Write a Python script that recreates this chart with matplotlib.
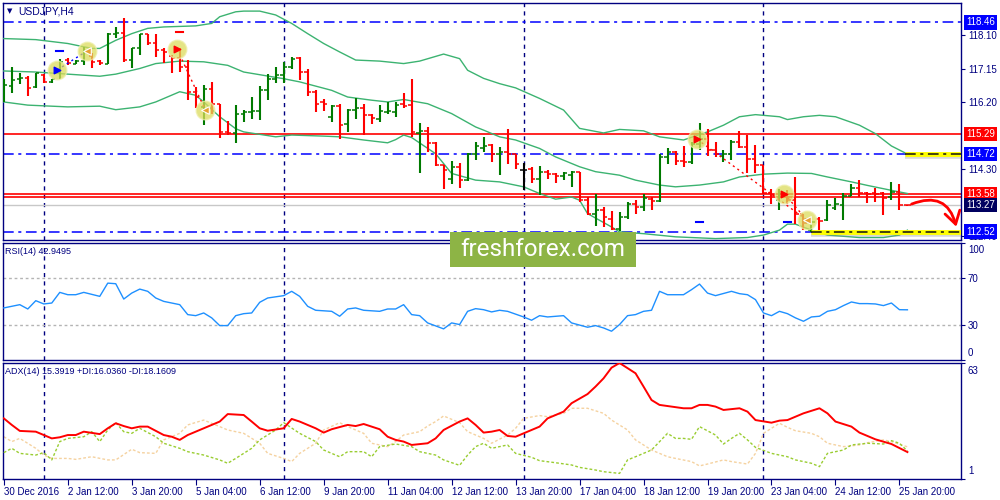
import matplotlib
matplotlib.use('Agg')
import matplotlib.pyplot as plt
from matplotlib.patches import FancyArrowPatch, Rectangle
import numpy as np

plt.rcParams['font.family'] = ['Liberation Sans', 'DejaVu Sans']

# USDJPY H4 bars, 30 Dec 2016 .. 26 Jan 2017
opens = [116.44, 116.65, 116.86, 116.89, 116.63, 116.97, 116.77, 117.05, 117.39, 117.29,
         117.36, 117.50, 117.36, 117.29, 118.12, 118.16, 117.40, 117.72, 118.12, 117.86,
         117.67, 117.50, 117.45, 117.20, 116.49, 116.06, 116.58, 116.15, 115.35, 115.32,
         115.87, 115.92, 115.94, 116.55, 116.84, 116.96, 117.20, 117.45, 117.05, 116.49,
         116.20, 115.76, 116.08, 115.56, 115.97, 116.04, 115.82, 115.73, 115.92, 115.92,
         116.14, 116.11, 115.33, 115.38, 115.04, 114.42, 114.02, 114.36, 113.98, 114.72,
         114.88, 114.97, 114.72, 114.78, 114.72, 114.28, 114.31, 114.00, 114.22, 114.15,
         114.09, 114.12, 114.20, 113.41, 113.03, 113.14, 112.89, 112.60, 112.94, 113.30,
         113.22, 113.44, 113.39, 114.64, 114.78, 114.53, 114.50, 115.02, 115.16, 114.83,
         114.66, 114.73, 115.07, 114.92, 114.59, 114.40, 113.62, 113.43, 113.60, 113.41,
         113.03, 112.55, 112.89, 112.84, 113.20, 113.27, 113.52, 113.77, 113.62, 113.62,
         113.62, 113.50, 113.65, 113.27]
highs = [116.85, 117.20, 117.01, 116.93, 117.03, 116.99, 116.86, 117.43, 117.46, 117.40,
         117.75, 117.58, 117.40, 118.17, 118.33, 118.57, 117.74, 118.14, 118.14, 118.14,
         117.74, 117.53, 117.72, 117.40, 116.63, 116.68, 116.77, 116.15, 115.66, 116.11,
         115.97, 116.34, 116.65, 116.99, 117.18, 117.34, 117.48, 117.48, 117.15, 116.53,
         116.27, 116.11, 116.15, 116.01, 116.32, 116.15, 115.87, 116.11, 116.20, 116.20,
         116.46, 116.85, 115.60, 115.49, 115.07, 114.42, 114.52, 114.48, 114.75, 115.07,
         115.21, 115.02, 114.92, 115.42, 114.73, 114.47, 114.34, 114.37, 114.28, 114.17,
         114.22, 114.24, 114.22, 113.50, 113.58, 113.22, 113.11, 113.08, 113.36, 113.41,
         113.60, 113.50, 114.73, 114.88, 114.81, 114.94, 115.07, 115.59, 115.44, 115.07,
         114.83, 115.13, 115.37, 115.26, 114.97, 114.40, 113.74, 113.74, 113.69, 114.07,
         113.03, 112.94, 112.94, 113.41, 113.46, 113.62, 113.86, 113.98, 113.65, 113.77,
         113.65, 113.93, 113.88, 113.27]
lows = [116.20, 116.46, 116.72, 116.36, 116.61, 116.74, 116.74, 116.84, 117.24, 117.27,
        117.24, 117.17, 117.26, 117.29, 118.03, 117.34, 117.17, 117.53, 117.81, 117.48,
        117.32, 117.01, 117.05, 116.25, 116.04, 115.54, 115.87, 115.19, 115.26, 115.04,
        115.63, 115.73, 115.68, 116.25, 116.74, 116.74, 117.15, 116.82, 116.36, 115.92,
        115.94, 115.63, 115.16, 115.35, 115.73, 115.26, 115.57, 115.63, 115.87, 115.78,
        116.04, 115.21, 114.18, 114.78, 114.37, 113.74, 113.88, 113.77, 113.96, 114.56,
        114.78, 114.50, 114.12, 114.45, 114.31, 113.71, 113.90, 113.55, 114.02, 113.90,
        113.98, 113.79, 113.36, 112.98, 112.67, 112.65, 112.55, 112.54, 112.89, 113.03,
        113.11, 113.14, 113.36, 114.45, 114.40, 114.36, 114.45, 114.83, 114.66, 114.64,
        114.50, 114.55, 114.88, 114.17, 114.17, 113.58, 113.30, 113.14, 113.30, 112.73,
        112.55, 112.51, 112.48, 112.82, 113.14, 112.84, 113.52, 113.50, 113.34, 113.36,
        112.98, 113.43, 113.14, 113.24]
closes = [116.68, 116.82, 116.89, 116.61, 117.01, 116.76, 116.85, 117.34, 117.31, 117.36,
          117.62, 117.34, 117.32, 118.14, 118.16, 117.40, 117.72, 118.12, 117.86, 117.67,
          117.62, 117.45, 117.20, 116.49, 116.34, 116.58, 116.15, 115.35, 115.32, 115.87,
          115.92, 115.95, 116.55, 116.84, 116.96, 117.20, 117.43, 117.05, 116.49, 116.14,
          116.14, 116.08, 115.54, 115.98, 116.04, 115.82, 115.75, 115.95, 115.94, 116.11,
          116.08, 115.35, 115.38, 115.04, 114.42, 114.28, 114.36, 113.98, 114.72, 114.94,
          114.94, 114.72, 114.78, 114.72, 114.45, 114.28, 114.00, 114.22, 114.15, 114.09,
          114.17, 114.22, 113.41, 113.03, 113.14, 112.92, 112.60, 112.94, 113.30, 113.22,
          113.46, 113.39, 114.64, 114.78, 114.53, 114.50, 115.02, 115.16, 114.83, 114.72,
          114.73, 115.07, 114.92, 114.59, 114.40, 113.62, 113.55, 113.60, 113.41, 113.03,
          112.77, 112.79, 112.82, 113.27, 113.30, 113.52, 113.77, 113.62, 113.60, 113.58,
          113.48, 113.65, 113.27, 113.26]

# Bollinger bands (bar index, price)
upper_band = [(0, 118.00), (4, 117.97), (8, 117.86), (11, 117.72), (12, 117.72), (14, 117.95),
              (16, 118.14), (18, 118.29), (20, 118.33), (24, 118.36), (26, 118.43), (27, 118.62),
              (29, 118.76), (30, 118.78), (32, 118.78), (34, 118.67), (36, 118.43), (38, 118.14),
              (40, 117.86), (42, 117.62), (44, 117.39), (47, 117.36), (50, 117.29), (52, 117.36),
              (55, 117.56), (57, 117.43), (58, 117.10), (60, 116.87), (62, 116.72), (64, 116.60),
              (67, 116.30), (70, 115.97), (72, 115.45), (75, 115.32), (77, 115.42), (80, 115.38),
              (82, 115.21), (85, 115.12), (88, 115.35), (90, 115.54), (92, 115.78), (94, 115.84),
              (97, 115.78), (98, 115.70), (100, 115.78), (102, 115.82), (104, 115.78), (107, 115.54),
              (109, 115.30), (111, 114.95), (113, 114.72)]
middle_band = [(0, 117.08), (4, 117.05), (8, 116.99), (12, 116.93), (14, 116.99), (17, 117.15),
               (19, 117.29), (22, 117.36), (25, 117.34), (28, 117.24), (30, 117.05), (35, 116.86),
               (37, 116.77), (41, 116.53), (43, 116.34), (46, 116.25), (48, 116.20), (50, 116.27),
               (53, 116.15), (56, 115.87), (59, 115.49), (60, 115.40), (62, 115.21), (64, 115.12),
               (67, 114.88), (69, 114.64), (72, 114.36), (74, 114.22), (77, 114.12), (79, 113.98),
               (82, 113.84), (84, 113.79), (87, 113.84), (90, 113.93), (92, 114.07), (95, 114.15),
               (98, 114.18), (101, 114.17), (103, 114.07), (106, 113.93), (108, 113.83), (111, 113.69),
               (113, 113.60)]
lower_band = [(0, 116.20), (3, 116.11), (8, 116.06), (12, 116.08), (14, 115.98), (17, 116.06),
              (19, 116.20), (22, 116.49), (24, 116.39), (25, 116.20), (27, 115.78), (29, 115.44),
              (30, 115.35), (34, 115.21), (36, 115.26), (40, 115.23), (42, 115.21), (45, 115.12),
              (48, 115.04), (49, 115.13), (50, 115.26), (51, 115.19), (54, 114.73), (56, 114.17),
              (59, 113.98), (62, 113.93), (65, 113.79), (67, 113.60), (69, 113.44), (71, 113.50),
              (72, 113.41), (73, 113.03), (76, 112.65), (77, 112.51), (80, 112.46), (84, 112.37),
              (89, 112.32), (93, 112.35), (95, 112.42), (97, 112.56), (98, 112.73), (99, 112.73),
              (101, 112.56), (103, 112.42), (107, 112.35), (110, 112.35), (112, 112.42), (113, 112.56)]

# RSI(14)
rsi_points = [(0, 44.5), (2, 47.3), (3, 43.6), (4, 50.7), (5, 47.9), (6, 48.7), (7, 57.8), (8, 55.8),
              (9, 55.8), (10, 57.8), (12, 54.4), (13, 65.7), (14, 65.2), (15, 52.1), (16, 57.2),
              (17, 60.6), (18, 58.7), (19, 53.0), (20, 50.1), (22, 47.3), (23, 38.8), (24, 37.9),
              (25, 40.2), (26, 36.0), (27, 29.4), (28, 29.4), (29, 37.9), (30, 39.6), (31, 40.2),
              (32, 49.3), (33, 53.0), (35, 55.0), (36, 58.7), (37, 54.4), (38, 45.9), (39, 42.5),
              (41, 41.6), (42, 37.4), (43, 43.6), (44, 44.5), (45, 42.5), (47, 41.6), (48, 43.6),
              (49, 43.6), (50, 47.3), (51, 38.8), (52, 37.9), (53, 31.7), (55, 26.6), (56, 31.7),
              (57, 30.3), (58, 41.6), (59, 43.9), (60, 43.0), (61, 41.1), (62, 42.5), (63, 41.6),
              (65, 36.8), (66, 34.0), (67, 37.9), (68, 36.8), (70, 37.9), (71, 31.7), (73, 28.0),
              (74, 29.4), (75, 27.4), (76, 24.6), (77, 30.3), (78, 37.9), (79, 38.8), (80, 41.6),
              (81, 42.5), (82, 58.7), (83, 55.8), (85, 55.8), (86, 60.1), (87, 64.9), (88, 57.2),
              (89, 55.0), (91, 58.7), (92, 56.7), (93, 55.8), (94, 51.6), (95, 40.2), (96, 37.9),
              (97, 41.6), (98, 39.6), (99, 36.0), (100, 33.1), (101, 36.8), (102, 37.4), (103, 41.6),
              (104, 43.0), (105, 46.5), (106, 49.6), (107, 48.2), (108, 48.2), (109, 47.9),
              (110, 46.5), (111, 48.7), (112, 43.0), (113, 42.9)]

# ADX(14), +DI, -DI
adx_idx = [0, 1, 2, 4, 5, 6, 7, 8, 9, 10, 12, 13, 14, 15, 16, 17, 18, 20, 21, 22,
           23, 25, 27, 28, 30, 31, 32, 33, 35, 36, 37, 39, 40, 41, 43, 44, 45, 47, 48, 49,
           50, 51, 53, 54, 55, 57, 58, 59, 60, 61, 62, 63, 64, 65, 67, 68, 70, 71, 73, 74,
           75, 76, 77, 79, 80, 81, 82, 83, 85, 86, 87, 88, 89, 90, 92, 93, 94, 96, 97, 98,
           99, 100, 102, 103, 104, 106, 107, 109, 111, 113]
adx_val = [33.4, 29.9, 26.7, 26.3, 24.5, 22.7, 23.3, 24.5, 24.5, 26.3, 25.0, 28.1, 30.8, 29.3, 28.1, 29.0, 29.0, 24.5, 23.6, 21.9,
           24.5, 28.1, 31.7, 35.7, 35.2, 31.7, 28.1, 26.8, 28.1, 33.1, 31.7, 28.1, 25.8, 27.6, 29.9, 29.3, 30.4, 27.6, 23.6, 21.9,
           21.0, 19.2, 20.1, 22.7, 27.2, 31.7, 33.4, 29.9, 25.8, 26.3, 27.2, 24.0, 23.6, 25.4, 29.0, 33.4, 37.0, 41.5, 46.4, 50.4,
           54.8, 60.5, 63.0, 57.5, 50.4, 43.2, 40.6, 40.0, 38.8, 38.8, 40.6, 40.6, 39.7, 37.9, 38.8, 37.0, 32.5, 31.1, 32.2, 32.5,
           34.3, 36.1, 38.8, 36.1, 31.7, 29.0, 25.8, 22.2, 19.7, 15.4]
pdi_idx = [0, 1, 2, 4, 5, 6, 7, 8, 10, 11, 12, 13, 14, 15, 16, 17, 19, 20, 22, 23,
           25, 27, 28, 29, 31, 32, 34, 35, 37, 39, 40, 42, 43, 45, 46, 47, 49, 51, 52, 54,
           55, 57, 58, 59, 60, 61, 63, 64, 66, 67, 69, 71, 72, 74, 75, 77, 78, 79, 80, 81,
           83, 84, 85, 86, 87, 89, 90, 91, 92, 93, 94, 96, 98, 99, 101, 102, 103, 105, 106, 108,
           110, 111, 112, 113]
pdi_val = [15.1, 17.4, 14.7, 13.8, 15.1, 11.2, 21.0, 22.7, 23.6, 26.3, 21.0, 27.2, 31.1, 26.3, 25.4, 28.1, 23.6, 20.1, 17.4, 15.6,
           13.8, 11.2, 9.4, 12.0, 17.4, 21.9, 27.2, 31.1, 25.4, 21.0, 16.5, 12.9, 15.6, 15.6, 12.9, 18.3, 19.7, 18.3, 15.6, 13.8,
           11.2, 8.3, 13.8, 18.3, 20.1, 17.4, 19.2, 14.7, 12.6, 10.8, 9.7, 8.5, 7.2, 5.8, 4.9, 4.0, 11.2, 12.9, 14.7, 16.5,
           25.4, 22.7, 22.7, 22.2, 29.0, 24.5, 19.7, 22.7, 25.4, 21.9, 17.9, 14.7, 12.9, 11.2, 9.4, 7.6, 14.7, 16.5, 19.2, 20.1,
           19.7, 21.5, 20.1, 16.0]
mdi_idx = [0, 1, 2, 4, 5, 6, 8, 9, 11, 13, 14, 16, 17, 19, 20, 22, 23, 25, 27, 28,
           30, 32, 33, 35, 36, 37, 39, 40, 42, 43, 45, 46, 48, 49, 50, 52, 53, 54, 55, 57,
           58, 60, 61, 63, 64, 65, 67, 68, 70, 71, 73, 75, 76, 78, 79, 81, 83, 84, 86, 87,
           88, 90, 91, 93, 94, 95, 97, 98, 99, 101, 102, 103, 105, 107, 108, 110, 111, 113]
mdi_val = [23.6, 21.0, 22.7, 17.4, 13.8, 12.0, 12.0, 11.5, 12.9, 11.2, 11.2, 16.9, 15.1, 14.7, 21.9, 25.4, 29.9, 32.5, 29.0, 27.2,
           25.4, 20.1, 14.7, 12.0, 10.3, 14.7, 20.1, 27.2, 31.1, 29.0, 25.4, 20.1, 18.3, 21.0, 24.5, 26.3, 29.3, 31.7, 34.7, 31.1,
           26.3, 22.7, 20.1, 24.5, 28.1, 33.4, 34.9, 34.3, 36.1, 38.8, 38.8, 36.1, 32.5, 27.2, 21.9, 16.5, 12.9, 12.0, 10.3, 8.0,
           9.0, 11.2, 10.3, 9.0, 14.7, 25.4, 30.8, 28.6, 26.8, 25.4, 23.6, 20.1, 18.3, 19.2, 20.4, 21.9, 21.0, 18.2]

# levels drawn on the chart
blue_levels = [118.46, 114.72, 112.52]
red_levels = [115.29, 113.58, 113.51]
bid_price = 113.27
yellow_zones = [(112.75, 114.72), (100.9, 112.50)]  # (start bar, price)
price_ticks = [118.10, 117.15, 116.20, 114.30, 112.40]
boxed_labels = [(118.46, '#0000ff'), (115.29, '#ff0000'), (114.72, '#0000ff'),
                (113.58, '#ff0000'), (113.27, '#000060'), (112.52, '#0000ff')]

# trades (bar, price)
buy_entries = [(6.7, 117.11)]
sell_entries = [(21.7, 117.69), (86.7, 115.14), (97.6, 113.60)]
trade_exits = [(10.4, 117.65), (25.2, 115.97), (100.4, 112.85)]
trade_lines = [((6.7, 117.11), (10.4, 117.65), 'blue'),
               ((21.7, 117.69), (25.2, 115.97), 'red'),
               ((86.7, 115.14), (100.4, 112.85), 'red'),
               ((97.6, 113.60), (100.4, 112.85), 'red')]
stop_marks = [(7.0, 117.65, 'blue'), (22.0, 118.18, 'red'), (87.0, 112.80, 'blue'), (98.0, 112.80, 'blue')]

x_labels = ['30 Dec 2016', '2 Jan 12:00', '3 Jan 20:00', '5 Jan 04:00', '6 Jan 12:00',
            '9 Jan 20:00', '11 Jan 04:00', '12 Jan 12:00', '13 Jan 20:00', '17 Jan 04:00',
            '18 Jan 12:00', '19 Jan 20:00', '23 Jan 04:00', '24 Jan 12:00', '25 Jan 20:00']
x_label_bars = list(range(0, 113, 8))
week_bars = [5, 35, 65, 95]

NAVY = '#000080'

fig = plt.figure(figsize=(10, 5), dpi=100)
ax = fig.add_axes([0.003, 0.52, 0.958, 0.474])
ax_rsi = fig.add_axes([0.003, 0.28, 0.958, 0.234], sharex=ax)
ax_adx = fig.add_axes([0.003, 0.042, 0.958, 0.232], sharex=ax)

for a in (ax, ax_rsi, ax_adx):
    for s in a.spines.values():
        s.set_color(NAVY)
        s.set_linewidth(1)
    a.yaxis.tick_right()
    a.tick_params(axis='y', colors=NAVY, labelsize=7, length=3, pad=2)
    a.tick_params(axis='x', bottom=False, labelbottom=False)
    for b in week_bars:
        a.axvline(b, color=NAVY, lw=1, ls=(0, (3, 3)), zorder=1)

ax.set_xlim(-0.1, 119.7)

# --- price panel ---
idx = np.arange(len(closes))
o = np.array(opens)
c = np.array(closes)
colors = ['#007a00' if cc > oo else '#ff0000' if cc < oo else '#000000' for oo, cc in zip(o, c)]
ax.vlines(idx, lows, highs, colors=colors, lw=1.5, zorder=4)
ax.hlines(o, idx - 0.4, idx, colors=colors, lw=1.1, zorder=4)
ax.hlines(c, idx, idx + 0.4, colors=colors, lw=1.1, zorder=4)

for band in (upper_band, middle_band, lower_band):
    bx, by = zip(*band)
    ax.plot(bx, by, color='#3cb371', lw=1, zorder=3)

for p in red_levels:
    ax.axhline(p, color='#ff0000', lw=1.2, zorder=2)
ax.axhline(bid_price, color='#c8c8c8', lw=1, zorder=2)
for p in blue_levels:
    ax.axhline(p, color='#0000ff', lw=1.1, ls=(0, (7, 3, 2, 3)), zorder=2)

for start, p in yellow_zones:
    ax.plot([start, 119.7], [p - 0.05, p - 0.05], color='#909090', lw=4, alpha=0.35,
            solid_capstyle='butt', zorder=5)
    ax.plot([start, 119.7], [p, p], color='#ffff00', lw=3.5, solid_capstyle='butt', zorder=5)
    ax.plot([start, 119.7], [p, p], color='#101010', lw=1.1, ls=(0, (7, 3, 2, 3)), zorder=6)

for (x0, y0), (x1, y1), col in trade_lines:
    ax.plot([x0, x1], [y0, y1], color=col, lw=1, ls=(0, (1.5, 2.5)), zorder=6)

circles = buy_entries + sell_entries + trade_exits
cx, cy = zip(*circles)
ax.scatter(cx, cy, s=180, color='#dcdc5c', alpha=0.75, edgecolors='#eeeeaa', linewidths=1, zorder=7)
bx, by = zip(*buy_entries)
ax.scatter(bx, by, marker='>', s=22, color='#0000ff', zorder=8)
sx, sy = zip(*sell_entries)
ax.scatter(sx, sy, marker='>', s=22, color='#ff0000', zorder=8)
ex, ey = zip(*trade_exits)
ax.scatter(ex, ey, marker='<', s=30, color='#e8a030', edgecolors='white', linewidths=0.8, zorder=8)
for mx, my, col in stop_marks:
    ax.plot([mx - 0.45, mx + 0.45], [my, my], color=col, lw=1.5, zorder=8)

arrow = FancyArrowPatch((113.2, 113.27), (119.2, 112.58), connectionstyle='arc3,rad=-0.6',
                        arrowstyle='->,head_length=0.9,head_width=0.55', mutation_scale=10,
                        color='#ff0000', lw=2, zorder=9)
ax.add_patch(arrow)

ax.set_ylim(112.28, 119.01)
ax.set_yticks(price_ticks)
ax.set_yticklabels([f'{p:.2f}' for p in price_ticks])
for p, fc in boxed_labels:
    ax.annotate(f'{p:.2f}', xy=(1, p), xycoords=('axes fraction', 'data'), xytext=(3.5, 0),
                textcoords='offset points', va='center', ha='left', color='white', fontsize=7,
                bbox=dict(boxstyle='square,pad=0.22', fc=fc, ec='none'), annotation_clip=False, zorder=10)

fig.text(0.007, 1 - 11 / 500, '\u25bc', fontsize=5, color=NAVY, va='center', family=['DejaVu Sans'])
fig.text(0.018, 1 - 11 / 500, 'USDJPY,H4', fontsize=7.5, color=NAVY, va='center')

# --- RSI panel ---
rx, ry = zip(*rsi_points)
ax_rsi.plot(rx, ry, color='#1e90ff', lw=1, zorder=3)
for lvl in (70, 30):
    ax_rsi.axhline(lvl, color='#b4b4b4', lw=1, ls=(0, (2, 2)), zorder=1)
ax_rsi.set_ylim(0, 100)
ax_rsi.set_yticks([0, 30, 70, 100])
ax_rsi.set_yticklabels(['', '30', '70', ''])
ax_rsi.annotate('100', xy=(1, 1), xycoords='axes fraction', xytext=(5, -1.5), textcoords='offset points',
                va='top', ha='left', color=NAVY, fontsize=7, annotation_clip=False)
ax_rsi.annotate('0', xy=(1, 0), xycoords='axes fraction', xytext=(5, 1.5), textcoords='offset points',
                va='bottom', ha='left', color=NAVY, fontsize=7, annotation_clip=False)
ax_rsi.text(0.002, 0.93, 'RSI(14) 42.9495', transform=ax_rsi.transAxes, fontsize=6.5, color=NAVY, va='center')

# --- ADX panel ---
ax_adx.plot(adx_idx, adx_val, color='#ff0000', lw=1.4, zorder=4)
ax_adx.plot(pdi_idx, pdi_val, color='#9acd32', lw=1, ls=(0, (2, 1.5)), zorder=3)
ax_adx.plot(mdi_idx, mdi_val, color='#f5d2a0', lw=1, ls=(0, (2, 1.5)), zorder=2)
ax_adx.set_ylim(1, 63)
ax_adx.set_yticks([1, 63])
ax_adx.set_yticklabels(['', ''])
ax_adx.annotate('63', xy=(1, 1), xycoords='axes fraction', xytext=(5, -2), textcoords='offset points',
                va='top', ha='left', color=NAVY, fontsize=7, annotation_clip=False)
ax_adx.annotate('1', xy=(1, 0), xycoords='axes fraction', xytext=(5, 2), textcoords='offset points',
                va='bottom', ha='left', color=NAVY, fontsize=7, annotation_clip=False)
ax_adx.text(0.002, 0.93, 'ADX(14) 15.3919 +DI:16.0360 -DI:18.1609', transform=ax_adx.transAxes,
            fontsize=6.5, color=NAVY, va='center')

ax_adx.set_xticks(x_label_bars)
ax_adx.set_xticklabels(x_labels, ha='left')
ax_adx.tick_params(axis='x', bottom=True, labelbottom=True, colors=NAVY, labelsize=7, length=4, pad=2)

# watermark
fig.patches.append(Rectangle((0.45, 0.466), 0.186, 0.07, transform=fig.transFigure,
                             facecolor='#8db445', edgecolor='none', zorder=20))
fig.text(0.543, 0.5, 'freshforex.com', fontsize=17.5, color='white', ha='center', va='center',
         family=['Roboto', 'DejaVu Sans'], zorder=21)

fig.savefig('out.png', dpi=100, facecolor='white')
